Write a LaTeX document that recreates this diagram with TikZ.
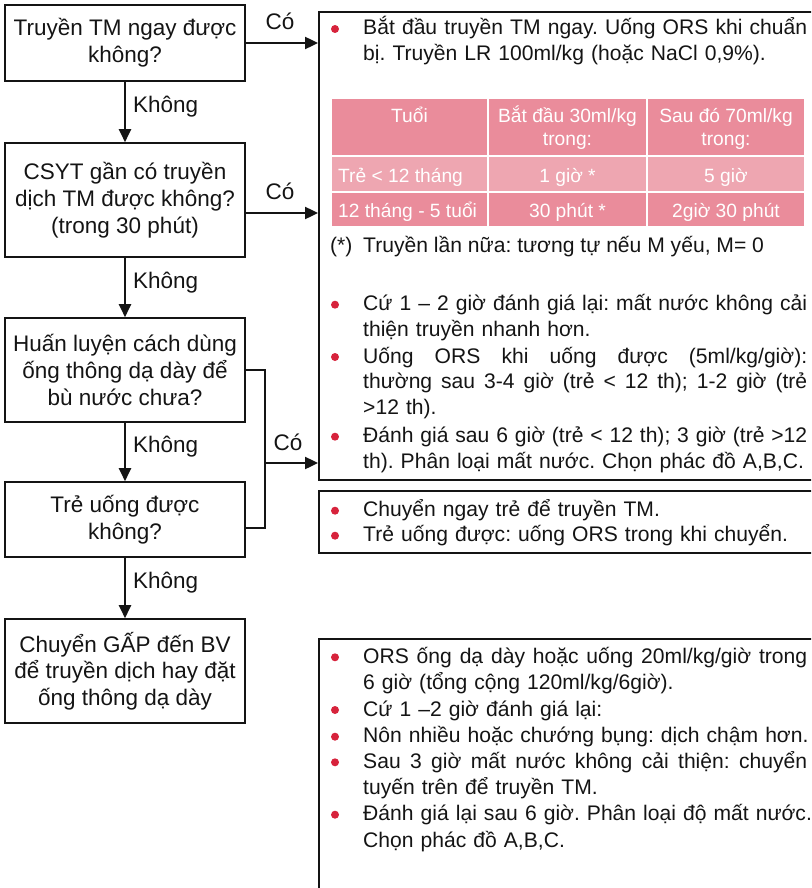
\documentclass[tikz,border=0pt]{standalone}
\usepackage{fontspec}
\setmainfont{Liberation Sans}
\usetikzlibrary{arrows.meta}
\definecolor{bred}{RGB}{215,35,60}
\definecolor{pinkA}{RGB}{234,140,155}
\definecolor{pinkB}{RGB}{238,166,177}
\definecolor{ink}{RGB}{20,20,20}
\newcommand\bulpar[3]{%
  \node[bdot] (#1d) at (335,#2-6) {};
  \node[btxt] (#1) at (363,#2) {#3};}
\newcommand\jl[1]{\makebox[444pt][s]{\spaceskip=0.278em plus 1em minus 0.08em\relax #1}}
\begin{document}
\frenchspacing
\begin{tikzpicture}[x=1pt,y=-1pt,
  qbox/.style={draw=ink, line width=1.6pt, minimum width=240pt, align=center,
    font=\fontsize{22.5}{26.7}\selectfont, inner sep=0pt, text=ink},
  rbox/.style={draw=ink, line width=1.6pt, anchor=north west, inner sep=0pt, minimum width=540pt},
  arr/.style={draw=ink, line width=2.4pt, -{Triangle[length=13pt,width=12pt]}},
  seg/.style={draw=ink, line width=2.4pt},
  lbl/.style={font=\fontsize{22.5}{26}\selectfont, inner sep=0pt, text=ink},
  btxt/.style={anchor=base west, inner sep=0pt, text width=470pt, align=left, text=ink},
  bdot/.style={circle, fill=bred, minimum size=8pt, inner sep=0pt},
  cellA/.style={draw=white, line width=1.5pt, fill=pinkA, inner sep=0pt},
  cellB/.style={draw=white, line width=1.5pt, fill=pinkB, inner sep=0pt},
  tt/.style={text=white, font=\fontsize{19.2}{22}\selectfont, inner sep=0pt},
]
\useasboundingbox (0,0) rectangle (811,888);
\clip (0,0) rectangle (811,888);

% left question boxes
\node[qbox, minimum height=76pt] (b1) at (125,43) {Truyền TM ngay được\\không?};
\node[qbox, minimum height=114pt] (b2) at (125,200) {CSYT gần có truyền\\dịch TM được không?\\(trong 30 phút)};
\node[qbox, minimum height=104pt] (b3) at (125,370) {Huấn luyện cách dùng\\ống thông dạ dày để\\bù nước chưa?};
\node[qbox, minimum height=75pt] (b4) at (125,519.5) {Trẻ uống được\\không?};
\node[qbox, minimum height=104pt] (b5) at (125,671) {Chuyển GẤP đến BV\\để truyền dịch hay đặt\\ống thông dạ dày};

% right boxes
\node[rbox, minimum height=468pt] (r1) at (318,11) {};
\node[rbox, minimum height=62pt] (r2) at (318,490) {};
\node[rbox, minimum height=300pt] (r3) at (318,638) {};

% vertical arrows
\draw[arr] (b1) -- (b2);
\draw[arr] (b2) -- (b3);
\draw[arr] (b3) -- (b4);
\draw[arr] (b4) -- (b5);
\node[lbl, anchor=west] (k1) at (133,107) {Không};
\node[lbl, anchor=west] (k2) at (133,283) {Không};
\node[lbl, anchor=west] (k3) at (133,447) {Không};
\node[lbl, anchor=west] (k4) at (133,583) {Không};

% horizontal arrows
\draw[arr] (b1.east) -- (b1.east -| r1.west);
\draw[arr] ([yshift=-13pt]b2.east) -- ([yshift=-13pt]b2.east -| r1.west);
\coordinate (j) at (265,463);
\draw[seg] (b3.east) -| (j);
\draw[seg] ([yshift=-8.5pt]b4.east) -| (j);
\draw[arr] (j) -- (j -| r1.west);
\node[lbl] (c1) at (280,21) {Có};
\node[lbl] (c2) at (280,191) {Có};
\node[lbl] (c3) at (288,442) {Có};

% box r1 contents
\begingroup
\fontsize{21.1}{25.5}\selectfont
\bulpar{p1}{35}{\jl{Bắt đầu truyền TM ngay. Uống ORS khi chuẩn}\\bị. Truyền LR 100ml/kg (hoặc NaCl 0,9\%).}
\endgroup

% table
\node[cellA, minimum width=157pt, minimum height=58pt] (t11) at (409.5,127) {};
\node[cellA, minimum width=159pt, minimum height=58pt] (t12) at (567.5,127) {};
\node[cellA, minimum width=158pt, minimum height=58pt] (t13) at (726,127) {};
\node[cellB, minimum width=157pt, minimum height=36pt] (t21) at (409.5,174) {};
\node[cellB, minimum width=159pt, minimum height=36pt] (t22) at (567.5,174) {};
\node[cellB, minimum width=158pt, minimum height=36pt] (t23) at (726,174) {};
\node[cellA, minimum width=157pt, minimum height=35pt] (t31) at (409.5,209.5) {};
\node[cellA, minimum width=159pt, minimum height=35pt] (t32) at (567.5,209.5) {};
\node[cellA, minimum width=158pt, minimum height=35pt] (t33) at (726,209.5) {};
\node[tt, anchor=base] (h1) at (409.5,123) {Tuổi};
\node[tt, anchor=base] (h2a) at (567.5,123) {Bắt đầu 30ml/kg};
\node[tt, anchor=base] (h2b) at (567.5,145) {trong:};
\node[tt, anchor=base] (h3a) at (726,123) {Sau đó 70ml/kg};
\node[tt, anchor=base] (h3b) at (726,145) {trong:};
\node[tt, anchor=base west] (a1) at (338,182) {Trẻ < 12 tháng};
\node[tt, anchor=base] (a2) at (567.5,182) {1 giờ *};
\node[tt, anchor=base] (a3) at (726,182) {5 giờ};
\node[tt, anchor=base west] (d1) at (338,217) {12 tháng - 5 tuổi};
\node[tt, anchor=base] (d2) at (567.5,217) {30 phút *};
\node[tt, anchor=base] (d3) at (726,217) {2giờ 30 phút};

\begingroup
\fontsize{21.1}{25.5}\selectfont
\node[anchor=base west, inner sep=0pt, text=ink] (fn1) at (330,252) {(*)};
\node[anchor=base west, inner sep=0pt, text=ink] (fn2) at (363,252) {Truyền lần nữa: tương tự nếu M yếu, M= 0};
\bulpar{p2}{310.7}{\jl{Cứ 1 – 2 giờ đánh giá lại: mất nước không cải}\\thiện truyền nhanh hơn.}
\bulpar{p3}{363}{\jl{Uống ORS khi uống được (5ml/kg/giờ):}\\\jl{thường sau 3-4 giờ (trẻ < 12 th); 1-2 giờ (trẻ}\\>12 th).}
\bulpar{p4}{442.7}{\jl{Đánh giá sau 6 giờ (trẻ < 12 th); 3 giờ (trẻ >12}\\th). Phân loại mất nước. Chọn phác đồ A,B,C.}
% r2
\bulpar{q1}{516.7}{Chuyển ngay trẻ để truyền TM.}
\bulpar{q2}{541.7}{Trẻ uống được: uống ORS trong khi chuyển.}
\endgroup

\begingroup
\fontsize{21.1}{26.3}\selectfont
\bulpar{s1}{663.3}{\jl{ORS ống dạ dày hoặc uống 20ml/kg/giờ trong}\\6 giờ (tổng cộng 120ml/kg/6giờ).}
\bulpar{s2}{716}{Cứ 1 –2 giờ đánh giá lại:}
\bulpar{s3}{742.7}{Nôn nhiều hoặc chướng bụng: dịch chậm hơn.}
\bulpar{s4}{768.3}{\jl{Sau 3 giờ mất nước không cải thiện: chuyển}\\tuyến trên để truyền TM.}
\bulpar{s5}{820.7}{Đánh giá lại sau 6 giờ. Phân loại độ mất nước.\\Chọn phác đồ A,B,C.}
\endgroup
\end{tikzpicture}
\end{document}
